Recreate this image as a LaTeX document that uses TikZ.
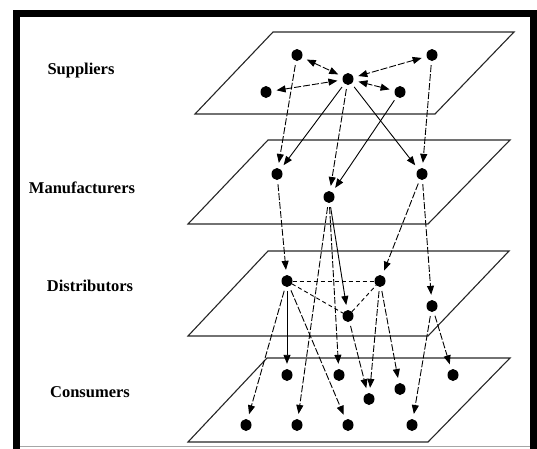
\documentclass[tikz,border=0pt]{standalone}
\usepackage{fontspec}
\setmainfont{Liberation Serif}
\usetikzlibrary{arrows.meta,shapes.geometric}
\begin{document}
\begin{tikzpicture}[x=1pt,y=-1pt,
  dot/.style={ellipse,fill=black,inner sep=0pt,minimum width=11pt,minimum height=12pt},
  plane/.style={draw=black!85,line width=1.1pt,line join=miter},
  conn/.style={-{Triangle[length=9pt,width=7pt]},line width=0.9pt,dash pattern=on 7pt off 2pt,shorten >=5pt,shorten <=4pt},
  solidconn/.style={conn,solid},
  both/.style={{Triangle[length=9pt,width=7pt]}-{Triangle[length=9pt,width=7pt]},line width=0.9pt,dash pattern=on 7pt off 2pt,shorten >=5pt,shorten <=5pt},
  link/.style={line width=0.9pt,dash pattern=on 4pt off 3pt},
  lab/.style={font=\fontsize{16.5}{19}\selectfont\bfseries,anchor=base,inner sep=0pt}]
\useasboundingbox (0,0) rectangle (537,448);
% frame
\draw[line width=7pt] (16.5,460) -- (16.5,13.5) -- (533.5,13.5) -- (533.5,460);
\draw[black!35,line width=0.8pt] (20,446) -- (530,446);
% planes
\draw[plane] (195,114) -- (435,114) -- (514,32) -- (273,32) -- cycle;
\draw[plane] (188,224) -- (428,224) -- (510,140) -- (268,140) -- cycle;
\draw[plane] (188,336) -- (428,336) -- (509,251) -- (268,251) -- cycle;
\draw[plane] (188,442) -- (428,442) -- (510,358) -- (267,358) -- cycle;
% labels
\node[lab] (lsup) at (81,74) {Suppliers};
\node[lab] (lman) at (82,193) {Manufacturers};
\node[lab] (ldis) at (90,291) {Distributors};
\node[lab] (lcon) at (90,397) {Consumers};
% suppliers
\node[dot] (A) at (297,55) {};
\node[dot] (B) at (432,55) {};
\node[dot] (C) at (348,79) {};
\node[dot] (D) at (266,92) {};
\node[dot] (E) at (400,92) {};
% manufacturers
\node[dot] (M1) at (277,174) {};
\node[dot] (M2) at (329,197) {};
\node[dot] (M3) at (422,174) {};
% distributors
\node[dot] (D1) at (287,281) {};
\node[dot] (D2) at (380,281) {};
\node[dot] (D3) at (348,316) {};
\node[dot] (D4) at (432,306) {};
% consumers
\node[dot] (C1) at (287,375) {};
\node[dot] (C2) at (339,375) {};
\node[dot] (C3) at (453,375) {};
\node[dot] (C4) at (400,389) {};
\node[dot] (C5) at (369,399) {};
\node[dot] (C6) at (246,425) {};
\node[dot] (C7) at (297,425) {};
\node[dot] (C8) at (348,425) {};
\node[dot] (C9) at (412,425) {};
% supplier links
\draw[both] (A) -- (C);
\draw[both] (B) -- (C);
\draw[both] (D) -- (C);
\draw[both] (E) -- (C);
% suppliers -> manufacturers
\draw[conn] (A) -- (M1);
\draw[solidconn] (C) -- (M1);
\draw[conn] (C) -- (M2);
\draw[solidconn] (E) -- (M2);
\draw[solidconn] (C) -- (M3);
\draw[conn] (B) -- (M3);
% manufacturers -> distributors / consumers
\draw[conn] (M1) -- (D1);
\draw[solidconn] (M2) -- (D3);
\draw[conn] (M2) -- (C2);
\draw[conn] (M2) -- (C7);
\draw[conn] (M3) -- (D2);
\draw[conn] (M3) -- (D4);
% distributor links
\draw[link] (D1) -- (D2);
\draw[link] (D1) -- (D3);
\draw[link] (D3) -- (D2);
% distributors -> consumers
\draw[solidconn] (D1) -- (C1);
\draw[conn] (D1) -- (C6);
\draw[conn] (D1) -- (C8);
\draw[conn] (D3) -- (C5);
\draw[conn] (D2) -- (C5);
\draw[conn] (D2) -- (C4);
\draw[conn] (D4) -- (C3);
\draw[conn] (D4) -- (C9);
\end{tikzpicture}
\end{document}
